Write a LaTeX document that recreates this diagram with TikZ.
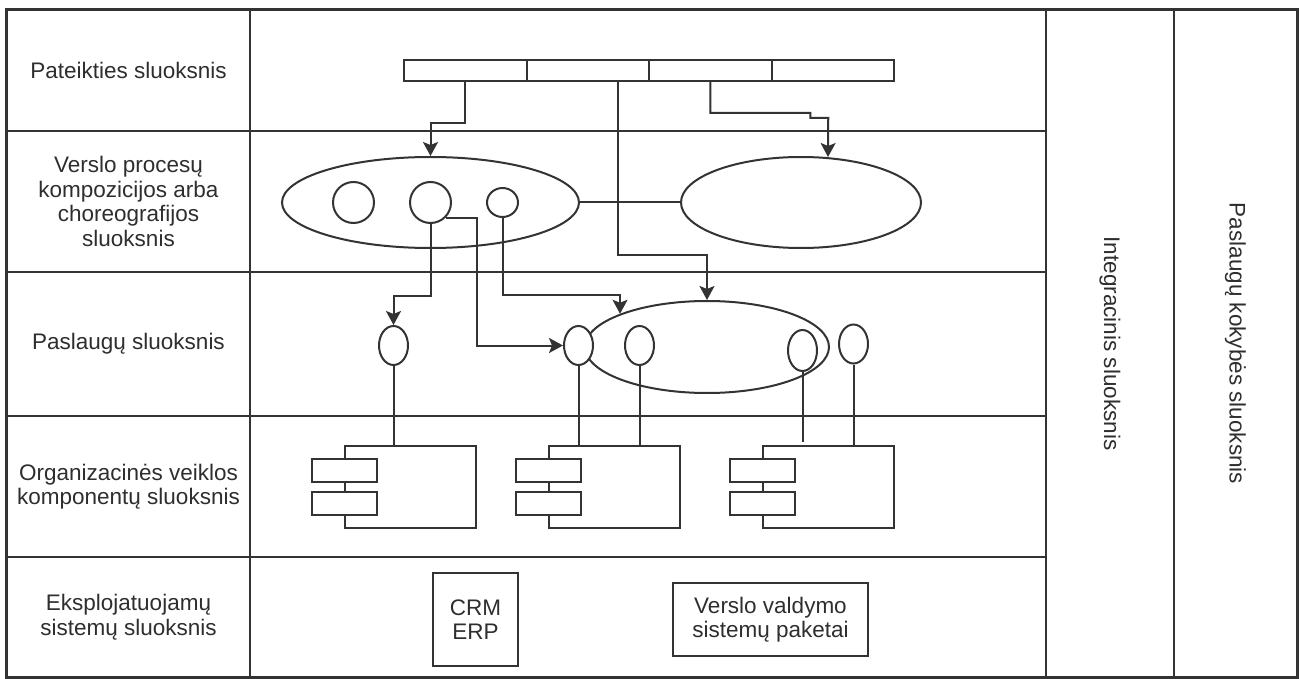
\documentclass[tikz,border=0pt]{standalone}
\usepackage{fontspec}
\setmainfont{Liberation Sans}
\usetikzlibrary{shapes.geometric,arrows.meta,calc}
\begin{document}
\begin{tikzpicture}[x=1pt,y=-1pt,
  line width=2pt, draw=black!80,
  lbl/.style={font=\fontsize{22.5}{24.5}\selectfont, text=black!82, align=center},
  cell/.style={draw, rectangle, inner sep=0pt, line width=2pt},
  barcell/.style={draw, rectangle, inner sep=0pt, minimum width=122.5pt, minimum height=21pt},
  oval/.style={draw, ellipse, inner sep=0pt},
  iface/.style={draw, ellipse, inner sep=0pt, minimum width=29pt, minimum height=39pt},
  compbody/.style={draw, rectangle, inner sep=0pt, minimum width=131pt, minimum height=82pt},
  comptab/.style={draw, rectangle, inner sep=0pt, fill=white, minimum width=65pt, minimum height=23pt},
  sysbox/.style={draw, rectangle, inner sep=0pt, lbl},
  arr/.style={-{Stealth[length=14pt,width=15pt,inset=3pt]}}
]
\useasboundingbox (0,0) rectangle (1301,679);

% layer labels (left column)
\node[cell, lbl, minimum width=243pt, minimum height=121pt] (l1) at (128.5,70.5) {Pateikties sluoksnis};
\node[cell, lbl, minimum width=243pt, minimum height=141pt] (l2) at (128.5,201.5) {Verslo procesų\\kompozicijos arba\\choreografijos\\sluoksnis};
\node[cell, lbl, minimum width=243pt, minimum height=144pt] (l3) at (128.5,344) {Paslaugų sluoksnis};
\node[cell, lbl, minimum width=243pt, minimum height=141pt] (l4) at (128.5,486.5) {Organizacinės veiklos\\komponentų sluoksnis};
\node[cell, lbl, minimum width=243pt, minimum height=120pt] (l5) at (128.5,617) {Eksplojatuojamų\\sistemų sluoksnis};

% layer contents (middle column)
\node[cell, minimum width=796pt, minimum height=121pt] (m1) at (648,70.5) {};
\node[cell, minimum width=796pt, minimum height=141pt] (m2) at (648,201.5) {};
\node[cell, minimum width=796pt, minimum height=144pt] (m3) at (648,344) {};
\node[cell, minimum width=796pt, minimum height=141pt] (m4) at (648,486.5) {};
\node[cell, minimum width=796pt, minimum height=120pt] (m5) at (648,617) {};

% cross-cutting layers
\node[cell, minimum width=128pt, minimum height=667pt] (ci) at (1110,343.5) {};
\node[cell, minimum width=123pt, minimum height=667pt] (cq) at (1235.5,343.5) {};
\node[lbl, rotate=-90] (cit) at (ci.center) {Integracinis sluoksnis};
\node[lbl, rotate=-90] (cqt) at (cq.center) {Paslaugų kokybės sluoksnis};

% outer frame
\draw[line width=2.6pt] (l1.north west) rectangle (cq.south east);

% presentation bar
\node[barcell] (b1) at (465.25,70.5) {};
\node[barcell] (b2) at (587.75,70.5) {};
\node[barcell] (b3) at (710.25,70.5) {};
\node[barcell] (b4) at (832.75,70.5) {};

% business process layer
\node[oval, minimum width=297pt, minimum height=91pt] (P) at (430.5,202.5) {};
\node[oval, minimum width=240pt, minimum height=91pt] (Q) at (801,202.5) {};
\node[oval, minimum width=41pt, minimum height=41pt] (c1) at (353.5,202.5) {};
\node[oval, minimum width=41pt, minimum height=41pt] (c2) at (430.5,202.5) {};
\node[oval, minimum width=31pt, minimum height=29pt] (c3) at (502.5,202.5) {};
\draw (P.east) -- (Q.west);

% service layer
\node[oval, minimum width=244pt, minimum height=92pt] (S) at (707,347) {};
\node[iface] (ia) at (393.5,345.5) {};
\node[iface, fill=white] (ib) at (578.5,345.5) {};
\node[iface] (ic) at (639.5,345.5) {};
\node[iface, minimum height=41pt] (id) at (802.5,350.5) {};
\node[iface] (ie) at (853.5,344) {};

% components
\node[compbody] (k1) at (410.5,487) {};
\node[compbody] (k2) at (614.5,487) {};
\node[compbody] (k3) at (828.5,487) {};
\foreach \k in {k1,k2,k3}{
  \node[comptab] (\k a) at ($(\k.west)+(0,-16.5)$) {};
  \node[comptab] (\k b) at ($(\k.west)+(0,16.5)$) {};
}

% operational systems
\node[sysbox, minimum width=85pt, minimum height=93pt] (crm) at (475.5,619.5) {CRM\\ERP};
\node[sysbox, minimum width=195pt, minimum height=73pt] (erp) at (770.5,619.5) {Verslo valdymo\\sistemų paketai};

% connectors
\draw[arr] (b1.south) -- ++(0,41) -| (P.north);
\draw[arr] ($(b2.south)+(30.25,0)$) -- ++(0,173) -| (S.north);
\draw[arr] (b3.south) -- ++(0,31) -- ++(100,0) -- ++(0,5) -- ++(18,0) -- ($(Q.north)+(27,1)$);
\draw[arr] (c2.south) -- ++(0,72) -| (ia.north);
\draw[arr] (c2.south east) -- ++(31,0) |- (ib.west);
\draw[arr] (c3.south) -- ++(0,76.5) -| (S.north west);

\draw (ia.south) -- (ia.south |- k1.north);
\draw (ib.south) -- (ib.south |- k2.north);
\draw (ic.south) -- (ic.south |- k2.north);
\draw (id.south) -- ($(id.south |- k3.north)+(0,-3)$);
\draw (ie.south) -- (ie.south |- k3.north);
\end{tikzpicture}
\end{document}
